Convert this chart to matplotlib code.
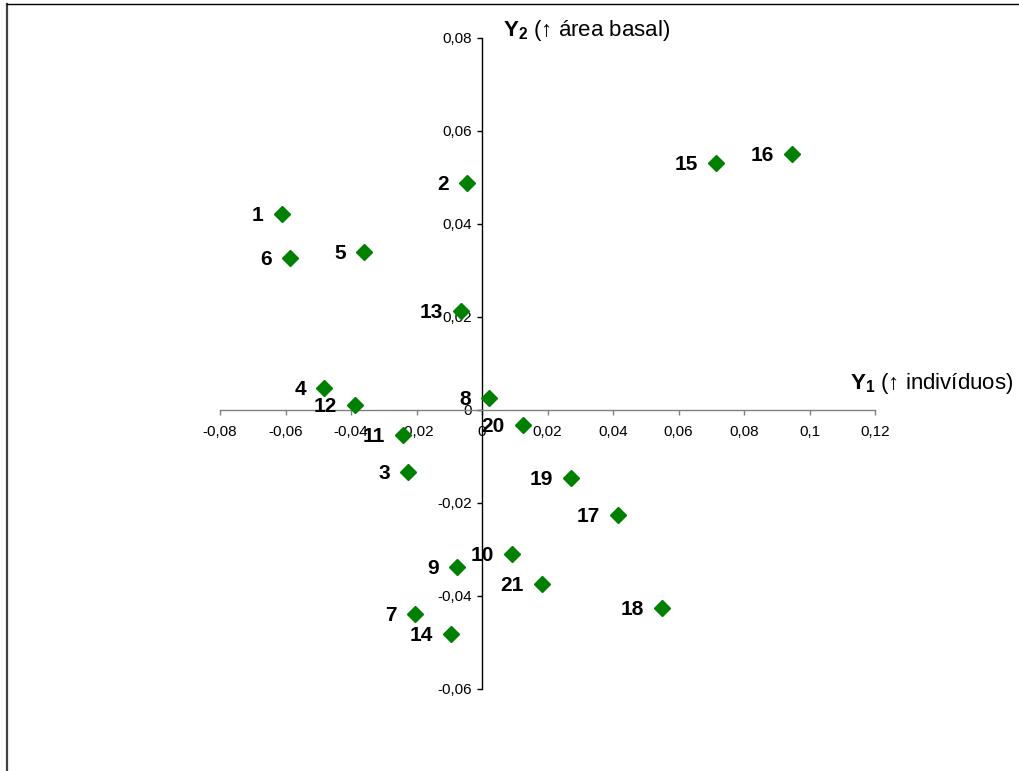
import matplotlib
matplotlib.use("Agg")
import matplotlib.pyplot as plt
from matplotlib.lines import Line2D
from matplotlib.ticker import FuncFormatter, MultipleLocator

plt.rcParams['font.family'] = ['Liberation Sans', 'DejaVu Sans']
plt.rcParams['mathtext.fontset'] = 'custom'
plt.rcParams['mathtext.rm'] = 'Liberation Sans'
plt.rcParams['mathtext.bf'] = 'Liberation Sans:bold'

# site scores on the first two axes
sites = ['1', '2', '3', '4', '5', '6', '7', '8', '9', '10', '11',
         '12', '13', '14', '15', '16', '17', '18', '19', '20', '21']
y1 = [-0.0611, -0.0046, -0.0226, -0.0482, -0.0360, -0.0586, -0.0205,
      0.0021, -0.0076, 0.0092, -0.0241, -0.0388, -0.0064, -0.0095,
      0.0715, 0.0947, 0.0415, 0.0550, 0.0272, 0.0125, 0.0183]
y2 = [0.0422, 0.0488, -0.0133, 0.0047, 0.0340, 0.0327, -0.0439,
      0.0026, -0.0338, -0.0310, -0.0054, 0.0011, 0.0213, -0.0482,
      0.0531, 0.0551, -0.0226, -0.0426, -0.0146, -0.0032, -0.0374]

fig = plt.figure(figsize=(10.19, 7.71), dpi=100)
ax = fig.add_axes([0.2159, 0.1064, 0.6428, 0.8444])

ax.set_xlim(-0.08, 0.12)
ax.set_ylim(-0.06, 0.08)
ax.xaxis.set_major_locator(MultipleLocator(0.02))
ax.yaxis.set_major_locator(MultipleLocator(0.02))


def comma(v, pos):
    v = round(v, 2)
    if v == 0:
        return '0'
    return f'{v:g}'.replace('.', ',')


ax.xaxis.set_major_formatter(FuncFormatter(comma))
ax.yaxis.set_major_formatter(FuncFormatter(comma))

# axes crossing at the origin
ax.spines['left'].set_position(('data', 0))
ax.spines['bottom'].set_position(('data', 0))
ax.spines['top'].set_visible(False)
ax.spines['right'].set_visible(False)
ax.spines['left'].set_color('black')
ax.spines['bottom'].set_color('#808080')
ax.spines['left'].set_linewidth(1.0)
ax.spines['bottom'].set_linewidth(1.0)
ax.tick_params(axis='x', direction='out', length=3.5, width=1,
               color='#808080', labelsize=11, pad=7)
ax.tick_params(axis='y', direction='out', length=3.5, width=1,
               color='black', labelsize=11, pad=4)

ax.plot(y1, y2, linestyle='none', marker='D', markersize=8.5,
        color='#008000', zorder=3, clip_on=False)

for name, x, y in zip(sites, y1, y2):
    ax.annotate(name, (x, y), xytext=(-13, -5), textcoords='offset points',
                ha='right', va='baseline', fontsize=15, fontweight='bold',
                zorder=4)

fig.text(0.4936, 0.960, r'$\mathbf{Y_2}$ (↑ área basal)', fontsize=16,
         ha='left', va='center')
fig.text(0.834, 0.503, r'$\mathbf{Y_1}$ (↑ indivíduos)', fontsize=16,
         ha='left', va='center')

# chart frame
fig.add_artist(Line2D([7 / 1019, 7 / 1019], [0, 1 - 4 / 771],
                      color='#404040', linewidth=1.6))
fig.add_artist(Line2D([7 / 1019, 1], [1 - 4 / 771, 1 - 4 / 771],
                      color='black', linewidth=1.0))

fig.savefig('out.png', dpi=100)
